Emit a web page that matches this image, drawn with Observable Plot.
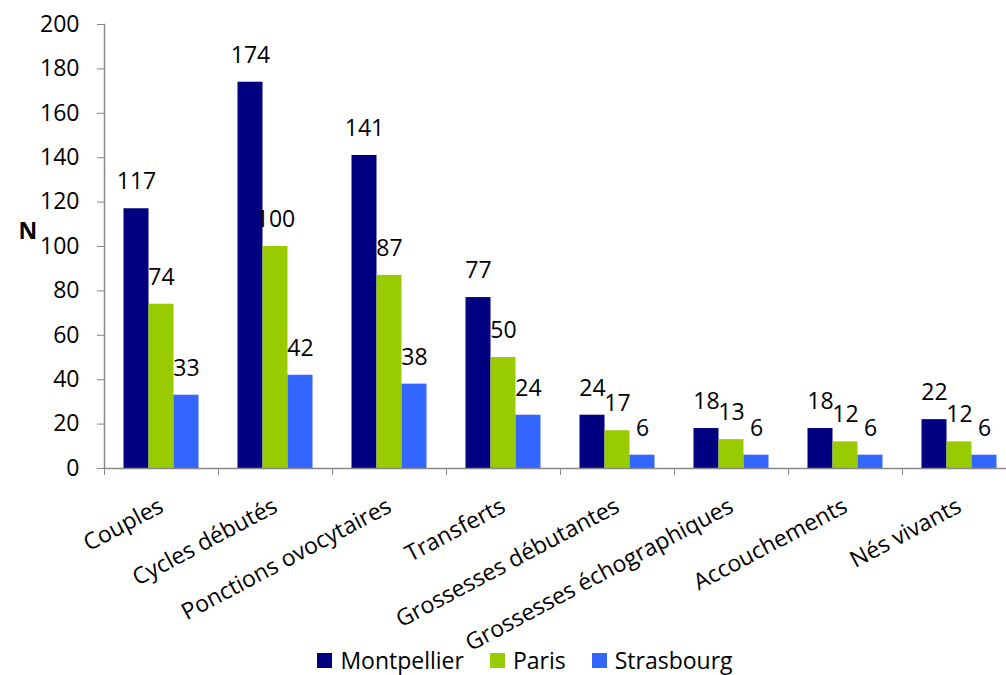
<!DOCTYPE html>
<html>
<head>
<meta charset="utf-8">
<script src="https://cdn.jsdelivr.net/npm/d3@7"></script>
<script src="https://cdn.jsdelivr.net/npm/@observablehq/plot@0.6"></script>
<style>
  html, body { margin: 0; padding: 0; background: #fff; }
  body { width: 1006px; height: 675px; overflow: hidden; font-family: "Open Sans", sans-serif; }
  #legend { display: flex; justify-content: center; align-items: center; height: 26px; line-height: 24px; margin-left: 44px; font-size: 23px; color: #000; }
  .item { display: flex; align-items: center; margin: 0 13px; }
  .sw { width: 15px; height: 15px; margin-right: 8px; }
</style>
</head>
<body>
<div id="chart"></div>
<div id="legend"></div>
<script>
const categories = ["Couples", "Cycles débutés", "Ponctions ovocytaires", "Transferts", "Grossesses débutantes", "Grossesses échographiques", "Accouchements", "Nés vivants"];
const seriesNames = ["Montpellier", "Paris", "Strasbourg"];
const montpellier = [117, 174, 141, 77, 24, 18, 18, 22];
const paris = [74, 100, 87, 50, 17, 13, 12, 12];
const strasbourg = [33, 42, 38, 24, 6, 6, 6, 6];
const colors = ["#000080", "#99CC00", "#3366FF"];
const yTicks = [0, 20, 40, 60, 80, 100, 120, 140, 160, 180, 200];

const seriesValues = [montpellier, paris, strasbourg];
const data = seriesNames.map((s, si) => categories.map((c, ci) => ({category: c, series: s, value: seriesValues[si][ci]})));

const bandW = 114, barW = 25, offset = 19.5;
const marks = [];
data.forEach((rows, si) => {
  const left = offset + si * barW;
  marks.push(Plot.barY(rows, {x: "category", y: "value", fill: colors[si], insetLeft: left, insetRight: bandW - left - barW}));
  marks.push(Plot.text(rows, {x: "category", y: "value", text: d => String(d.value), dx: left + barW / 2 - bandW / 2, dy: -27, fontSize: 23, fill: "#000"}));
});

const chart = Plot.plot({
  width: 1006,
  height: 647,
  marginLeft: 104,
  marginRight: 0,
  marginTop: 24,
  marginBottom: 179,
  style: {fontFamily: "Open Sans, sans-serif", fontSize: "23px", color: "#000", background: "#fff", overflow: "visible"},
  x: {domain: categories, range: [104, 104 + bandW * categories.length], padding: 0},
  y: {domain: [0, 200]},
  marks: [
    ...marks,
    Plot.ruleY([0], {stroke: "#888", strokeWidth: 1.5}),
    Plot.frame({anchor: "left", stroke: "#888", strokeWidth: 1.5}),
    Plot.axisY({ticks: yTicks, tickSize: 7, tickPadding: 18, stroke: "#888", fontSize: 23, fill: "#000", label: null}),
    Plot.axisX({tickSize: 7, dx: -bandW / 2, text: null, stroke: "#888", label: null}),
    Plot.axisX({tickSize: 0, tickPadding: 36, tickRotate: -28, fontSize: 23, fill: "#000", label: null}),
    Plot.text(["N"], {frameAnchor: "left", dx: -86, dy: -15, fontWeight: "bold", fontSize: 23, fill: "#000"})
  ]
});
document.getElementById("chart").appendChild(chart);

const legend = document.getElementById("legend");
seriesNames.forEach((s, i) => {
  const item = document.createElement("div");
  item.className = "item";
  const sw = document.createElement("div");
  sw.className = "sw";
  sw.style.background = colors[i];
  const label = document.createElement("span");
  label.textContent = s;
  item.appendChild(sw);
  item.appendChild(label);
  legend.appendChild(item);
});
</script>
</body>
</html>
